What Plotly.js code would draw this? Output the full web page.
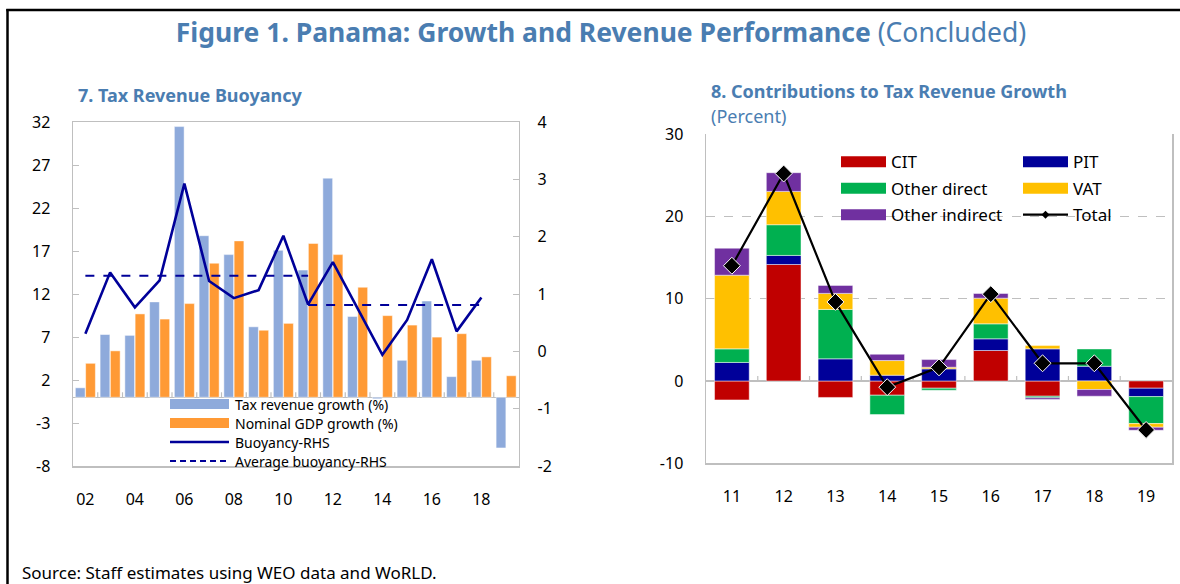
<!DOCTYPE html>
<html>
<head>
<meta charset="utf-8">
<script src="https://cdn.plot.ly/plotly-3.0.1.min.js"></script>
<style>html,body{margin:0;padding:0;background:#fff;}#chart{width:1180px;height:584px;}</style>
</head>
<body>
<div id="chart"></div>
<script>
// ---- Panel 7: Tax Revenue Buoyancy ----
const years = ['02','03','04','05','06','07','08','09','10','11','12','13','14','15','16','17','18','19'];
const yearTicks = ['02','04','06','08','10','12','14','16','18'];
const taxGrowth = [1.1, 7.3, 7.2, 11.1, 31.5, 18.8, 16.6, 8.2, 17.1, 14.8, 25.5, 9.4, -0.5, 4.3, 11.2, 2.4, 4.3, -5.9];
const gdpGrowth = [3.95, 5.4, 9.7, 9.1, 10.9, 15.6, 18.2, 7.8, 8.6, 17.9, 16.6, 12.8, 9.5, 8.4, 7.0, 7.4, 4.7, 2.5];
const buoyancy  = [0.31, 1.38, 0.77, 1.24, 2.93, 1.23, 0.93, 1.07, 2.02, 0.82, 1.56, 0.75, -0.06, 0.55, 1.61, 0.35, 0.94, null];
const avgYears1 = ['02','03','04','05','06','07','08','09','10','11'];
const avgBuoy1  = [1.32, 1.32, 1.32, 1.32, 1.32, 1.32, 1.32, 1.32, 1.32, 1.32];
const avgYears2 = ['11','12','13','14','15','16','17','18'];
const avgBuoy2  = [0.81, 0.81, 0.81, 0.81, 0.81, 0.81, 0.81, 0.81];
const leftTickVals = [-8, -3, 2, 7, 12, 17, 22, 27, 32];
const leftTickText = ['-8', '-3', '2', '7', '12', '17', '22', '27', '32'];
const rightTickVals = [-2, -1, 0, 1, 2, 3, 4];
const rightTickText = ['-2', '-1', '0', '1', '2', '3', '4'];

// ---- Panel 8: Contributions to Tax Revenue Growth ----
const years8 = ['11','12','13','14','15','16','17','18','19'];
const cit           = [-2.3, 14.15, -2.0, -1.73, -0.88, 3.7, -1.85, 0, -0.88];
const pit           = [2.25, 1.1, 2.69, 0.7, 1.47, 1.42, 3.9, 1.79, -1.02];
const otherDirect   = [1.65, 3.73, 6.0, -2.35, -0.24, 1.82, -0.2, 2.1, -3.28];
const vat           = [8.95, 4.05, 1.95, 1.78, 0.2, 3.12, 0.4, -1.04, -0.44];
const otherIndirect = [3.28, 2.27, 0.97, 0.77, 0.93, 0.57, -0.2, -0.81, -0.37];
const total         = [14.0, 25.2, 9.6, -0.75, 1.65, 10.55, 2.15, 2.15, -5.95];
const p8TickVals = [-10, 0, 10, 20, 30];
const p8TickText = ['-10', '0', '10', '20', '30'];

const W = 1180, H = 584;
const px = v => v / W;
const py = v => 1 - v / H;
const FONT = '"Noto Sans", "Open Sans", sans-serif';
const BLUE_T = '#4A7DB1';
const GRAY = '#BFBFBF';
const barLine = {color: 'rgba(255,255,255,0.8)', width: 0.6};

// series definitions for panel 8 (stack order)
const p8Series = [
  {name: 'CIT', values: cit, color: '#C00000'},
  {name: 'PIT', values: pit, color: '#000099'},
  {name: 'Other direct', values: otherDirect, color: '#00B050'},
  {name: 'VAT', values: vat, color: '#FFC000'},
  {name: 'Other indirect', values: otherIndirect, color: '#7030A0'}
];
// relative stacking: positives above zero, negatives below, in series order
const posAcc = years8.map(() => 0), negAcc = years8.map(() => 0);
const p8Traces = p8Series.map(s => {
  const base = s.values.map((v, i) => {
    let b;
    if (v >= 0) { b = posAcc[i]; posAcc[i] += v; } else { b = negAcc[i]; negAcc[i] += v; }
    return b;
  });
  return {type: 'bar', x: years8, y: s.values, base: base, name: s.name, offsetgroup: 'p8', width: 0.67,
          marker: {color: s.color, line: barLine}, xaxis: 'x2', yaxis: 'y3', showlegend: false};
});

const p7Series = [
  {name: 'Tax revenue growth (%)', kind: 'rect', color: '#8EAADB'},
  {name: 'Nominal GDP growth (%)', kind: 'rect', color: '#FF9A35'},
  {name: 'Buoyancy-RHS', kind: 'line', color: '#000099'},
  {name: 'Average buoyancy-RHS', kind: 'dash', color: '#000099'}
];

const traces = [
  {type: 'bar', x: years, y: taxGrowth, name: p7Series[0].name, marker: {color: p7Series[0].color, line: barLine}, xaxis: 'x', yaxis: 'y', showlegend: false},
  {type: 'bar', x: years, y: gdpGrowth, name: p7Series[1].name, marker: {color: p7Series[1].color, line: barLine}, xaxis: 'x', yaxis: 'y', showlegend: false},
  {type: 'scatter', mode: 'lines', x: years, y: buoyancy, name: p7Series[2].name, line: {color: '#000099', width: 2.6}, xaxis: 'x', yaxis: 'y2', showlegend: false},
  {type: 'scatter', mode: 'lines', x: avgYears1, y: avgBuoy1, name: p7Series[3].name, line: {color: '#000099', width: 2, dash: 'dash'}, xaxis: 'x', yaxis: 'y2', showlegend: false},
  {type: 'scatter', mode: 'lines', x: avgYears2, y: avgBuoy2, name: p7Series[3].name, line: {color: '#000099', width: 2, dash: 'dash'}, xaxis: 'x', yaxis: 'y2', showlegend: false},
  ...p8Traces,
  {type: 'scatter', mode: 'lines+markers', x: years8, y: total, name: 'Total', line: {color: '#000000', width: 2.2},
   marker: {symbol: 'diamond', size: 13, color: '#000000', line: {color: '#FFFFFF', width: 1}}, xaxis: 'x2', yaxis: 'y3', showlegend: false}
];

// ---- frame, zero-line ticks and custom legends ----
const shapes = [
  {type: 'line', xref: 'paper', yref: 'paper', x0: px(7.5), x1: px(7.5), y0: 0, y1: py(9), line: {color: '#000', width: 2.5}},
  {type: 'line', xref: 'paper', yref: 'paper', x0: px(6.3), x1: 1, y0: py(10), y1: py(10), line: {color: '#000', width: 2.5}}
];
// small upward tick marks on the zero lines at category boundaries
years.slice(0, -1).forEach((_, i) => shapes.push({type: 'line', layer: 'below', xref: 'x', yref: 'y', ysizemode: 'pixel', yanchor: 0,
  x0: i + 0.5, x1: i + 0.5, y0: 0, y1: 5, line: {color: GRAY, width: 1.2}}));
years8.slice(0, -1).forEach((_, i) => shapes.push({type: 'line', layer: 'below', xref: 'x2', yref: 'y3', ysizemode: 'pixel', yanchor: 0,
  x0: i + 0.5, x1: i + 0.5, y0: 0, y1: 5, line: {color: GRAY, width: 1.2}}));
// legend background of panel 7
shapes.push({type: 'rect', xref: 'paper', yref: 'paper', x0: px(166), x1: px(396), y0: py(398.5), y1: py(410), fillcolor: '#FFFFFF', line: {width: 0}});

const annotations = [];
const rectShape = (x0, y0, x1, y1, c) => ({type: 'rect', xref: 'paper', yref: 'paper', x0: px(x0), x1: px(x1), y0: py(y0), y1: py(y1), fillcolor: c, line: {width: 0}});
const lineShape = (x0, x1, y, c, w, dash) => ({type: 'line', xref: 'paper', yref: 'paper', x0: px(x0), x1: px(x1), y0: py(y), y1: py(y), line: {color: c, width: w, dash: dash || 'solid'}});
const legText = (x, y, t, size) => ({xref: 'paper', yref: 'paper', x: px(x), y: py(y), xanchor: 'left', yanchor: 'middle', showarrow: false, text: t, font: {family: FONT, size: size, color: '#000'}});

// panel 7 legend
p7Series.forEach((s, i) => {
  const yc = 404 + i * 19;
  if (s.kind === 'rect') shapes.push(rectShape(170, yc - 5, 229, yc + 5, s.color));
  else shapes.push(lineShape(170, 229, yc, s.color, s.kind === 'line' ? 2.6 : 2, s.kind === 'dash' ? '6px,4px' : 'solid'));
  annotations.push(legText(233, yc, s.name, 14));
});
// panel 8 legend (two columns, row-wise)
const p8Legend = p8Series.map(s => ({name: s.name, color: s.color, kind: 'rect'})).concat([{name: 'Total', color: '#000', kind: 'total'}]);
p8Legend.forEach((s, i) => {
  const col = i % 2, row = Math.floor(i / 2);
  const x0 = col === 0 ? 841 : 1023;
  const yc = 161.7 + row * 26.5;
  if (s.kind === 'rect') shapes.push(rectShape(x0, yc - 5.5, x0 + 45, yc + 5.5, s.color));
  else {
    shapes.push(lineShape(x0, x0 + 45, yc, s.color, 2.2));
    const cx = x0 + 22.5, d = 4;
    shapes.push({type: 'path', xref: 'paper', yref: 'paper', fillcolor: '#000', line: {width: 0},
      path: `M${px(cx)},${py(yc - d)} L${px(cx + d)},${py(yc)} L${px(cx)},${py(yc + d)} L${px(cx - d)},${py(yc)} Z`});
  }
  annotations.push(legText(x0 + 48, yc, s.name, 17));
});

annotations.push(
  {xref: 'paper', yref: 'paper', x: px(76), y: py(95), xanchor: 'left', yanchor: 'middle', showarrow: false,
   text: '<b>7. Tax Revenue Buoyancy</b>', font: {family: FONT, size: 18, color: BLUE_T}},
  {xref: 'paper', yref: 'paper', x: px(709), y: py(91), xanchor: 'left', yanchor: 'middle', showarrow: false,
   text: '<b>8. Contributions to Tax Revenue Growth</b>', font: {family: FONT, size: 18, color: BLUE_T}},
  {xref: 'paper', yref: 'paper', x: px(709), y: py(116), xanchor: 'left', yanchor: 'middle', showarrow: false,
   text: '(Percent)', font: {family: FONT, size: 18, color: BLUE_T}},
  {xref: 'paper', yref: 'paper', x: px(20), y: py(572), xanchor: 'left', yanchor: 'middle', showarrow: false,
   text: 'Source: Staff estimates using WEO data and WoRLD.', font: {family: FONT, size: 17, color: '#000'}}
);

const tickFont = {family: FONT, size: 16, color: '#000'};

const layout = {
  width: W, height: H,
  margin: {l: 0, r: 0, t: 0, b: 0},
  paper_bgcolor: '#fff', plot_bgcolor: 'rgba(0,0,0,0)',
  font: {family: FONT, color: '#000'},
  barmode: 'group', bargap: 0.17, bargroupgap: 0.05,
  showlegend: false,
  title: {text: '<b>Figure 1. Panama: Growth and Revenue Performance</b> (Concluded)', font: {family: FONT, size: 26.5, color: BLUE_T},
          x: px(601), xanchor: 'center', y: py(33), yanchor: 'middle', xref: 'paper', yref: 'paper'},
  xaxis: {
    domain: [px(73), px(518.5)], anchor: 'y', type: 'category', range: [-0.5, 17.5],
    tickmode: 'array', tickvals: yearTicks, ticktext: yearTicks, ticks: '', tickfont: tickFont,
    ticklabelstandoff: 18,
    showline: true, linecolor: GRAY, linewidth: 1.5, mirror: true, showgrid: false, zeroline: false
  },
  yaxis: {
    domain: [py(466), py(122.3)], anchor: 'x', range: [-8, 32],
    tickmode: 'array', tickvals: leftTickVals, ticktext: leftTickText,
    ticks: 'inside', ticklen: 6, tickcolor: GRAY, tickfont: tickFont, ticklabelstandoff: 18,
    showline: true, linecolor: GRAY, linewidth: 1.5, mirror: true, showgrid: false,
    zeroline: true, zerolinecolor: GRAY, zerolinewidth: 1.5
  },
  yaxis2: {
    overlaying: 'y', side: 'right', anchor: 'x', range: [-2, 4],
    tickmode: 'array', tickvals: rightTickVals, ticktext: rightTickText,
    ticks: 'inside', ticklen: 6, tickcolor: GRAY, tickfont: tickFont, ticklabelstandoff: 18,
    showgrid: false, zeroline: false, showline: false
  },
  xaxis2: {
    domain: [px(706), px(1172)], anchor: 'y3', type: 'category', range: [-0.5, 8.5],
    ticks: '', tickfont: tickFont, ticklabelstandoff: 18,
    showline: true, linecolor: GRAY, linewidth: 1.5, showgrid: false, zeroline: false
  },
  yaxis3: {
    domain: [py(463.3), py(134)], anchor: 'x2', range: [-10, 30],
    tickmode: 'array', tickvals: p8TickVals, ticktext: p8TickText,
    ticks: '', tickfont: tickFont, ticklabelstandoff: 18,
    showline: true, linecolor: GRAY, linewidth: 1.5, mirror: true,
    showgrid: true, gridcolor: GRAY, griddash: 'dash', gridwidth: 1,
    zeroline: true, zerolinecolor: GRAY, zerolinewidth: 1.5
  },
  shapes: shapes,
  annotations: annotations
};

Plotly.newPlot('chart', traces, layout, {displayModeBar: false, staticPlot: true});
</script>
</body>
</html>
